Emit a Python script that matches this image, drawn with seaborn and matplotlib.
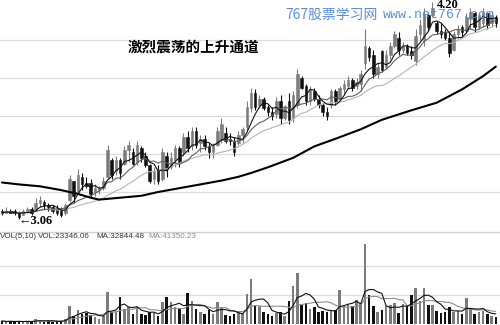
import numpy as np
import pandas as pd
import matplotlib
matplotlib.use("Agg")
import matplotlib.pyplot as plt
import seaborn as sns

# ---------------- data ----------------
opens = [3.10, 3.09, 3.10, 3.10, 3.09, 3.08, 3.10, 3.11, 3.11, 3.14,
         3.15, 3.13, 3.12, 3.11, 3.10, 3.09, 3.16, 3.26, 3.20, 3.28,
         3.25, 3.25, 3.20, 3.21, 3.22, 3.28, 3.37, 3.31, 3.37, 3.35,
         3.42, 3.41, 3.36, 3.43, 3.39, 3.34, 3.27, 3.31, 3.27, 3.39,
         3.33, 3.37, 3.43, 3.41, 3.49, 3.44, 3.52, 3.46, 3.48, 3.44,
         3.41, 3.45, 3.48, 3.51, 3.48, 3.47, 3.46, 3.50, 3.54, 3.64,
         3.72, 3.66, 3.69, 3.65, 3.62, 3.61, 3.68, 3.59, 3.68, 3.59,
         3.66, 3.80, 3.76, 3.68, 3.73, 3.69, 3.66, 3.62, 3.66, 3.73,
         3.69, 3.74, 3.76, 3.79, 3.76, 3.77, 3.88, 3.96, 3.92, 3.82,
         3.94, 3.86, 3.92, 3.97, 4.01, 3.95, 3.97, 3.94, 3.89, 4.03,
         4.00, 4.13, 4.13, 4.09, 4.05, 4.04, 4.01, 3.95, 4.03, 4.07,
         4.05, 4.11, 4.14, 4.07, 4.09, 4.14, 4.09, 4.12]
closes = [3.09, 3.10, 3.09, 3.09, 3.07, 3.10, 3.11, 3.09, 3.14, 3.16,
          3.13, 3.12, 3.10, 3.09, 3.08, 3.13, 3.27, 3.18, 3.29, 3.24,
          3.23, 3.19, 3.22, 3.22, 3.26, 3.42, 3.29, 3.37, 3.30, 3.42,
          3.45, 3.35, 3.45, 3.38, 3.34, 3.26, 3.31, 3.26, 3.41, 3.32,
          3.38, 3.43, 3.36, 3.49, 3.43, 3.52, 3.45, 3.48, 3.44, 3.41,
          3.44, 3.52, 3.56, 3.47, 3.47, 3.41, 3.50, 3.53, 3.65, 3.72,
          3.65, 3.69, 3.64, 3.62, 3.60, 3.68, 3.59, 3.64, 3.58, 3.71,
          3.82, 3.75, 3.68, 3.74, 3.69, 3.66, 3.62, 3.60, 3.73, 3.68,
          3.75, 3.77, 3.79, 3.75, 3.78, 3.82, 3.97, 3.91, 3.82, 3.86,
          3.84, 3.92, 3.97, 4.03, 3.95, 3.97, 3.93, 3.92, 4.02, 4.08,
          4.13, 4.07, 4.17, 4.05, 4.03, 4.01, 3.93, 4.03, 4.06, 4.04,
          4.12, 4.15, 4.07, 4.13, 4.15, 4.08, 4.13, 4.09]
highs = [3.11, 3.12, 3.11, 3.11, 3.10, 3.11, 3.12, 3.12, 3.17, 3.18,
         3.16, 3.14, 3.13, 3.13, 3.12, 3.14, 3.29, 3.26, 3.32, 3.30,
         3.28, 3.27, 3.24, 3.23, 3.28, 3.45, 3.38, 3.39, 3.38, 3.44,
         3.47, 3.43, 3.47, 3.44, 3.41, 3.35, 3.33, 3.34, 3.43, 3.41,
         3.41, 3.45, 3.44, 3.51, 3.52, 3.54, 3.54, 3.50, 3.50, 3.46,
         3.46, 3.54, 3.59, 3.54, 3.51, 3.49, 3.52, 3.54, 3.68, 3.75,
         3.74, 3.71, 3.70, 3.66, 3.65, 3.70, 3.71, 3.66, 3.72, 3.73,
         3.85, 3.81, 3.77, 3.76, 3.75, 3.71, 3.67, 3.65, 3.74, 3.74,
         3.76, 3.79, 3.81, 3.80, 3.80, 3.84, 4.06, 3.97, 3.95, 3.88,
         3.95, 3.95, 3.99, 4.05, 4.04, 3.99, 3.98, 3.97, 4.06, 4.11,
         4.17, 4.15, 4.20, 4.10, 4.09, 4.06, 4.04, 4.05, 4.08, 4.08,
         4.14, 4.17, 4.15, 4.15, 4.17, 4.15, 4.15, 4.13]
lows = [3.08, 3.09, 3.09, 3.08, 3.06, 3.08, 3.09, 3.08, 3.10, 3.12,
        3.11, 3.10, 3.09, 3.08, 3.07, 3.08, 3.15, 3.14, 3.19, 3.21,
        3.22, 3.17, 3.18, 3.19, 3.21, 3.27, 3.27, 3.29, 3.27, 3.34,
        3.36, 3.34, 3.34, 3.36, 3.33, 3.25, 3.24, 3.24, 3.26, 3.28,
        3.32, 3.33, 3.33, 3.39, 3.41, 3.42, 3.43, 3.41, 3.42, 3.38,
        3.38, 3.44, 3.46, 3.46, 3.45, 3.39, 3.45, 3.46, 3.52, 3.62,
        3.63, 3.64, 3.63, 3.60, 3.58, 3.59, 3.56, 3.58, 3.56, 3.57,
        3.64, 3.74, 3.66, 3.66, 3.68, 3.64, 3.60, 3.58, 3.64, 3.66,
        3.68, 3.71, 3.74, 3.73, 3.74, 3.73, 3.85, 3.89, 3.80, 3.80,
        3.83, 3.85, 3.90, 3.96, 3.92, 3.93, 3.92, 3.90, 3.87, 4.00,
        3.97, 4.05, 4.12, 4.03, 4.01, 4.00, 3.91, 3.94, 4.01, 4.02,
        4.04, 4.06, 4.04, 4.06, 4.07, 4.06, 4.07, 4.07]
volumes = [8400, 5600, 8400, 5600, 8400, 5600, 8400, 5600, 14000, 11200,
           5600, 8400, 5600, 8400, 8400, 14000, 50400, 22400, 39200, 28000,
           30800, 25200, 19600, 14000, 22400, 89600, 33600, 36400, 75600, 42000,
           47600, 28000, 47600, 28000, 25200, 33600, 30800, 22400, 61600, 75600,
           61600, 47600, 42000, 28000, 86800, 64400, 42000, 33600, 28000, 39200,
           28000, 61600, 44800, 25200, 22400, 28000, 36400, 30800, 84000, 126000,
           53200, 50400, 33600, 28000, 22400, 30800, 33600, 22400, 64400, 106400,
           142800, 53200, 58800, 42000, 47600, 33600, 36400, 33600, 36400, 39200,
           95200, 50400, 53200, 50400, 67200, 58800, 221200, 81200, 50400, 33600,
           39200, 50400, 53200, 58800, 30800, 56000, 50400, 81200, 100800, 64400,
           100800, 53200, 53200, 36400, 30800, 33600, 47600, 33600, 36400, 28000,
           72800, 44800, 28000, 33600, 36400, 28000, 22400, 19600]

# long-term moving average (thick black line), read at a few candles
long_ma_idx = [0, 4, 9, 14, 18, 21, 23, 28, 33, 37, 42, 47, 52, 56, 59,
               63, 69, 74, 79, 85, 90, 97, 103, 109, 114, 117]
long_ma_val = [3.25, 3.24, 3.23, 3.21, 3.19, 3.17, 3.16, 3.17, 3.18, 3.20,
               3.22, 3.24, 3.26, 3.28, 3.30, 3.33, 3.38, 3.44, 3.48, 3.53,
               3.58, 3.63, 3.67, 3.74, 3.81, 3.86]

price_grid = [3.2, 3.4, 3.6, 3.8, 4.0]
vol_grid = [80000, 160000]

title_text = "激烈震荡的上升通道"
low_label = "←3.06"
high_label = "4.20"
wm_cn = "767股票学习网"
wm_en = "www.net767.com"
vol_labels = ["VOL(5,10)", "VOL:23346.06", "MA:32844.48", "MA:41350.23"]

# ---------------- drawing ----------------
sns.set_style("white")
plt.rcParams['font.family'] = ['DejaVu Sans']

n = len(closes)
idx = np.arange(n)
df = pd.DataFrame({"i": idx, "o": opens, "c": closes, "h": highs, "l": lows, "v": volumes})
df["dir"] = np.where(df["c"] >= df["o"], "up", "down")
UP, DOWN = "#7c7c7c", "#111111"
colors = [UP if d == "up" else DOWN for d in df["dir"]]

df["ma5"] = df["c"].rolling(5, min_periods=1).mean()
df["ma10"] = df["c"].rolling(10, min_periods=1).mean()
df["ma20"] = df["c"].rolling(20, min_periods=1).mean()
df["vma5"] = df["v"].rolling(5, min_periods=1).mean()
df["vma10"] = df["v"].rolling(10, min_periods=1).mean()

fig = plt.figure(figsize=(5.0, 3.25), dpi=100)
fig.patch.set_facecolor("white")
ax = fig.add_axes([0, 96 / 325, 1, 229 / 325])
axv = fig.add_axes([0, 1 / 325, 1, 93 / 325])

xlim = (-0.474, 118.0)

# price panel
for g in price_grid:
    ax.axhline(g, color="#dcdcdc", lw=0.9, zorder=0)

body_lo = np.minimum(df["o"], df["c"])
body_h = np.maximum(np.abs(df["c"] - df["o"]), 0.004)
ax.vlines(df["i"], df["l"], df["h"], colors=colors, lw=0.8, zorder=2)
ax.bar(df["i"], body_h, bottom=body_lo, width=0.6, color=colors,
       edgecolor=colors, linewidth=0.4, zorder=3)

sns.lineplot(x=df["i"], y=df["ma20"], ax=ax, color="#b4b4b4", lw=0.8, zorder=4)
sns.lineplot(x=df["i"], y=df["ma10"], ax=ax, color="#606060", lw=0.8, zorder=4)
sns.lineplot(x=df["i"], y=df["ma5"], ax=ax, color="#111111", lw=0.8, zorder=5)
sns.lineplot(x=long_ma_idx, y=long_ma_val, ax=ax, color="#000000", lw=1.5, zorder=5)

ax.set_xlim(*xlim)
ax.set_ylim(3.2 - 37 / 190, 3.2 + 192 / 190)
ax.set_axis_off()

ax.text(4.0, 3.045, low_label, ha="left", va="center", fontsize=9,
        fontweight="bold", family=["Liberation Serif", "DejaVu Serif"], color="black", zorder=6)
ax.text(103.0, 4.186, high_label, ha="left", va="center", fontsize=9,
        fontweight="bold", family=["Liberation Serif", "DejaVu Serif"], color="black", zorder=6)

# volume panel
for g in vol_grid:
    axv.axhline(g, color="#dcdcdc", lw=0.9, zorder=0)
vtop = 93 * 2780
axv.axhline(vtop * 0.99, color="#cfcfcf", lw=1.0, zorder=0)

sns.barplot(data=df, x="i", y="v", hue="dir", palette={"up": UP, "down": DOWN},
            dodge=False, native_scale=True, width=0.6, errorbar=None, saturation=1,
            linewidth=0, legend=False, ax=axv, zorder=2)
sns.lineplot(x=df["i"], y=df["vma10"], ax=axv, color="#8c8c8c", lw=0.8, zorder=4)
sns.lineplot(x=df["i"], y=df["vma5"], ax=axv, color="#111111", lw=0.8, zorder=5)
axv.set_xlim(*xlim)
axv.set_ylim(0, vtop)
axv.set_axis_off()

# texts
fig.text(193 / 500, 1 - 47 / 325, title_text, ha="center", va="center",
         fontsize=10.5, fontweight="bold", family=["Noto Sans CJK SC", "DejaVu Sans"], color="black")
fig.text(285 / 500, 1 - 15 / 325, wm_cn, ha="left", va="center", fontsize=10,
         family=["Noto Sans CJK SC", "DejaVu Sans"], color="#5a8fd6")
fig.text(383 / 500, 1 - 15 / 325, wm_en, ha="left", va="center", fontsize=9.5,
         family=["Liberation Mono", "DejaVu Sans Mono"], color="#5a8fd6")

vx = [0, 38, 96, 148]
vc = ["#333333", "#333333", "#333333", "#8c8c8c"]
for x, t, c in zip(vx, vol_labels, vc):
    fig.text(x / 500, 1 - 237 / 325, t, ha="left", va="center", fontsize=5.8,
             family=["Liberation Sans", "DejaVu Sans"], color=c)

fig.savefig("out.png", dpi=100, facecolor="white")
